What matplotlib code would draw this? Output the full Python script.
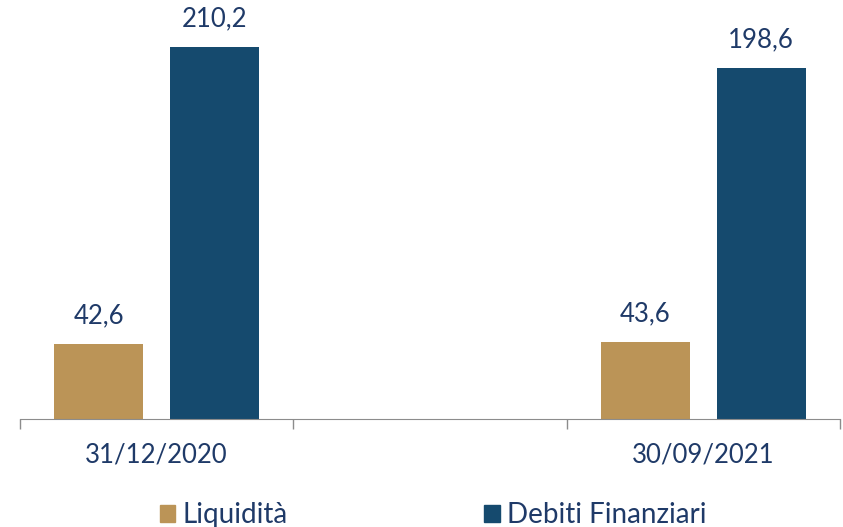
import numpy as np
import matplotlib.pyplot as plt
from matplotlib.patches import Patch

categories = ['31/12/2020', '', '30/09/2021']
liquidita = [42.6, np.nan, 43.6]
debiti = [210.2, np.nan, 198.6]
series_names = ['Liquidità', 'Debiti Finanziari']

gold = '#BB9457'
blue = '#154A6E'
text_col = '#1F3A68'

plt.rcParams['font.family'] = ['Lato', 'DejaVu Sans']

fig = plt.figure(figsize=(8.43, 5.27), dpi=100)
ax = fig.add_axes([20 / 843, 108 / 527, 820 / 843, 419 / 527])

x = np.arange(len(categories))
w = 0.326
off = 0.212
b1 = ax.bar(x - off, liquidita, w, color=gold)
b2 = ax.bar(x + off, debiti, w, color=blue)

for bars, vals in [(b1, liquidita), (b2, debiti)]:
    for rect, v in zip(bars, vals):
        if np.isnan(v):
            continue
        ax.annotate(f'{v:.1f}'.replace('.', ','),
                    (rect.get_x() + rect.get_width() / 2, v),
                    xytext=(0, 20), textcoords='offset points',
                    ha='center', va='center', fontsize=18.5, color=text_col)

ax.set_xlim(-0.5, 2.5)
ax.set_ylim(0, 236.8)
ax.set_xticks([-0.5, 0.5, 1.5, 2.5])
ax.set_xticklabels([])
ax.set_xticks(x, minor=True)
ax.set_xticklabels(categories, minor=True, fontsize=18.5, color=text_col)
ax.tick_params(axis='x', which='major', length=7, color='#8C8C8C', width=1)
ax.tick_params(axis='x', which='minor', length=0, pad=17)
ax.set_yticks([])
for s in ['top', 'right', 'left']:
    ax.spines[s].set_visible(False)
ax.spines['bottom'].set_color('#8C8C8C')

handles = [Patch(color=gold), Patch(color=blue)]
fig.legend(handles, series_names, loc='center', bbox_to_anchor=(433 / 843, 12 / 527),
           ncol=2, frameon=False, fontsize=20, handlelength=0.55, handleheight=0.55,
           handletextpad=0.25, columnspacing=7.1, labelcolor=text_col)

fig.savefig('out.png', dpi=100)
